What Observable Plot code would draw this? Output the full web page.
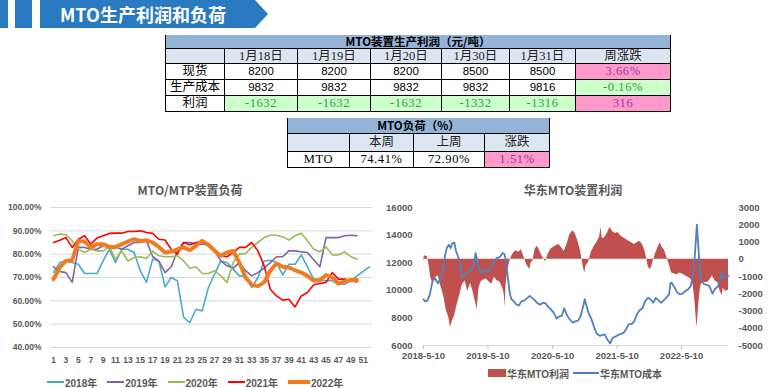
<!DOCTYPE html>
<html><head><meta charset="utf-8">
<script src="https://cdn.jsdelivr.net/npm/d3@7"></script>
<script src="https://cdn.jsdelivr.net/npm/@observablehq/plot@0.6"></script>
<style>
body{margin:0;width:776px;height:388px;background:#fff;position:relative;overflow:hidden;font-family:"Noto Sans CJK SC",sans-serif;}
.abs{position:absolute;}
#banner{left:40px;top:0;width:228px;height:28px;background:#2A7AC2;clip-path:polygon(0 0,215px 0,228px 14px,215px 28px,0 28px);color:#fff;font-weight:bold;font-size:18px;line-height:28px;}
#banner span{position:absolute;left:20px;top:0;}
.blk{top:0;height:28px;background:#2A7AC2;}
table{border-collapse:collapse;position:absolute;table-layout:fixed;}
td{border:1px solid #000;padding:0;text-align:center;overflow:hidden;white-space:nowrap;color:#000;}
td.h{background:#95B3D7;font-weight:bold;font-size:11.5px;font-family:"Noto Sans CJK SC";border-top:none;overflow:visible;}
td.s{background:#DCE6F1;font-family:"Liberation Serif","Noto Sans CJK SC";font-size:12.5px;color:#222;}
td.lab{font-family:"Liberation Serif","Noto Sans CJK SC";font-size:12.5px;}
td.num{font-family:"Liberation Sans";font-size:11.5px;}
td.ser{font-family:"Liberation Serif";font-size:12.5px;letter-spacing:0.6px;}
td.g{background:#CCFFCC;color:#2E9E3E;}
td.p{background:#FF99CC;color:#9B3A9B;}
.title{font-weight:bold;font-size:12px;color:#595959;text-align:center;line-height:16px;}
.legend{display:flex;align-items:center;font-family:"Liberation Sans","Noto Sans CJK SC";font-weight:bold;font-size:10px;color:#595959;white-space:nowrap;}
.legend .it{display:flex;align-items:center;}
.sw{display:inline-block;width:17px;margin-right:1px;}
</style></head><body>
<div class="abs blk" style="left:0;width:8px"></div>
<div class="abs blk" style="left:15px;width:17px"></div>
<div id="banner" class="abs"><span>MTO生产利润和负荷</span></div>
<div id="tables"></div>
<div class="abs title" style="left:90px;top:182px;width:200px">MTO/MTP装置负荷</div>
<div class="abs title" style="left:473px;top:182px;width:200px">华东MTO装置利润</div>
<div id="left" class="abs" style="left:0;top:195px"></div>
<div id="right" class="abs" style="left:380px;top:195px"></div>
<div id="legL" class="abs legend" style="left:47px;top:375px;height:14px"></div>
<div id="legR" class="abs legend" style="left:488px;top:366px;height:14px"></div>
<script>
// ---------- table data ----------
const profitTitle = "MTO装置生产利润（元/吨）";
const dateCols = ["1月18日","1月19日","1月20日","1月30日","1月31日"];
const changeHead = "周涨跌";
const rowNames = ["现货","生产成本","利润"];
const spotRow = [8200,8200,8200,8500,8500];
const costRow = [9832,9832,9832,9832,9816];
const profitRow = [-1632,-1632,-1632,-1332,-1316];
const weekChange = ["3.66%","-0.16%","316"];
const loadTitle = "MTO负荷（%）";
const loadCols = ["本周","上周","涨跌"];
const loadRow = ["MTO","74.41%","72.90%","1.51%"];

// ---------- load chart data (weekly, %) ----------
const years = ["2018年","2019年","2020年","2021年","2022年"];
const y2018 = [72.1,76.4,77.1,76.4,75.7,71.7,71.7,71.7,77.1,82.1,76.4,82.1,82.1,80.7,72.9,67.9,77.9,77.1,66.0,70.0,68.6,52.9,50.7,56.4,55.7,65.7,71.4,77.1,76.4,73.6,70.7,70.7,65.7,70.0,77.1,77.4,76.4,71.1,75.7,75.7,79.7,74.6,69.3,68.9,68.6,68.6,67.1,67.1,68.6,70.7,72.6,74.6];
const y2019 = [74.6,72.6,72.1,67.9,82.9,82.9,82.1,82.1,83.6,83.6,83.1,82.1,83.6,85.0,85.0,85.7,79.0,77.0,72.1,74.6,81.4,85.0,85.0,84.3,84.3,84.0,81.4,77.1,75.0,74.0,76.4,72.9,70.7,72.1,74.0,76.4,78.9,78.9,81.4,81.4,81.0,80.7,77.6,74.6,87.1,87.1,87.1,87.9,88.1,87.9];
const y2020 = [87.9,88.6,88.3,85.7,82.1,80.7,82.1,81.4,81.4,83.1,77.9,81.4,77.1,78.6,78.9,78.1,81.4,79.3,78.9,78.9,79.3,77.1,74.0,74.6,71.7,71.7,72.9,70.7,67.9,76.4,80.0,80.3,82.9,85.0,87.1,88.1,88.1,87.4,86.0,87.9,89.0,85.7,82.1,81.0,83.1,79.7,79.7,81.0,78.9,77.9];
const y2021 = [85.0,86.0,87.1,82.9,86.4,87.9,84.3,86.9,87.9,88.9,89.0,89.0,89.7,89.7,90.0,89.3,88.9,86.4,86.1,82.1,80.0,85.0,84.0,85.0,85.4,84.6,82.1,79.3,78.9,80.7,82.9,82.9,85.0,81.4,75.0,65.0,62.1,60.3,60.7,57.4,62.1,63.6,66.9,67.4,67.9,72.1,69.3,69.3,68.6,68.1];
const y2022 = [69.3,74.3,77.1,77.4,85.7,85.4,82.9,84.3,84.3,83.1,83.1,84.3,85.4,86.4,85.7,86.0,85.0,83.1,80.7,81.1,82.1,82.9,81.7,83.6,85.7,84.0,81.4,79.3,80.7,81.4,76.4,70.0,66.9,66.3,67.9,72.9,76.0,74.6,74.3,73.1,72.1,70.7,68.6,68.9,71.0,70.0,67.4,68.3,68.9,68.9];
const loadTicks = [40,50,60,70,80,90,100];
const weekLabels = [1,3,5,7,9,11,13,15,17,19,21,23,25,27,29,31,33,35,37,39,41,43,45,47,49,51];

// ---------- profit chart data ----------
const costSeries = [["2018-05-10",9350],["2018-05-20",9200],["2018-06-01",9250],["2018-06-15",9700],["2018-07-01",10700],["2018-07-15",10850],["2018-08-01",10500],["2018-08-15",10900],["2018-09-01",11700],["2018-09-10",12600],["2018-09-20",13100],["2018-10-01",13300],["2018-10-10",13050],["2018-10-20",13400],["2018-11-01",13450],["2018-11-10",12850],["2018-11-20",12500],["2018-12-01",12100],["2018-12-15",10900],["2019-01-01",11150],["2019-01-15",11300],["2019-02-01",11450],["2019-02-15",11650],["2019-03-01",12700],["2019-03-10",12200],["2019-03-20",11500],["2019-04-01",11350],["2019-04-15",11250],["2019-05-01",11500],["2019-05-15",11400],["2019-06-01",11800],["2019-06-15",12150],["2019-07-01",12350],["2019-07-15",12400],["2019-08-01",12700],["2019-08-10",12650],["2019-08-20",12200],["2019-09-01",10800],["2019-09-10",9800],["2019-09-20",9350],["2019-10-01",9250],["2019-10-15",9000],["2019-11-01",8900],["2019-11-15",9200],["2019-12-01",9250],["2019-12-15",9400],["2020-01-01",9600],["2020-01-15",9450],["2020-02-01",9250],["2020-02-15",9050],["2020-03-01",8950],["2020-03-15",9100],["2020-04-01",9050],["2020-04-15",8800],["2020-05-01",8600],["2020-05-15",8400],["2020-06-01",7950],["2020-06-15",8100],["2020-07-01",8150],["2020-07-15",8700],["2020-08-01",8150],["2020-08-15",7900],["2020-09-01",7650],["2020-09-15",7750],["2020-10-01",7800],["2020-10-15",8100],["2020-11-01",8950],["2020-11-08",9350],["2020-11-15",9000],["2020-12-01",8300],["2020-12-15",7950],["2021-01-01",7300],["2021-01-15",6850],["2021-02-01",6700],["2021-02-15",6750],["2021-03-01",6800],["2021-03-15",6450],["2021-04-01",6150],["2021-04-15",6550],["2021-05-01",6650],["2021-05-15",6750],["2021-06-01",6850],["2021-06-15",6900],["2021-07-01",7200],["2021-07-15",7550],["2021-08-01",7550],["2021-08-15",7750],["2021-09-01",8300],["2021-09-15",8550],["2021-10-01",8700],["2021-10-15",9200],["2021-11-01",9450],["2021-11-15",9350],["2021-12-01",9100],["2021-12-15",9450],["2022-01-01",9250],["2022-01-15",9100],["2022-02-01",9300],["2022-02-15",9500],["2022-03-01",9700],["2022-03-08",10500],["2022-03-15",10550],["2022-04-01",10200],["2022-04-15",9850],["2022-05-01",9700],["2022-05-15",9750],["2022-06-01",9950],["2022-06-15",10050],["2022-07-01",10300],["2022-07-15",11200],["2022-07-25",12600],["2022-08-01",14000],["2022-08-05",14750],["2022-08-10",13800],["2022-08-15",12800],["2022-08-25",11000],["2022-09-01",10600],["2022-09-15",10450],["2022-10-01",10400],["2022-10-15",10300],["2022-11-01",9750],["2022-11-15",10100],["2022-12-01",10250],["2022-12-15",10700],["2022-12-25",11350],["2023-01-01",11000],["2023-01-15",10950],["2023-01-31",11050]];
const profitSeries = [["2018-05-10",-150],["2018-05-15",200],["2018-06-01",150],["2018-06-10",-300],["2018-06-20",-1050],["2018-07-01",-1400],["2018-07-15",-1100],["2018-08-01",-950],["2018-08-15",-1500],["2018-09-01",-2100],["2018-09-15",-2900],["2018-10-01",-3400],["2018-10-10",-3950],["2018-10-20",-3600],["2018-11-01",-3300],["2018-11-15",-2700],["2018-12-01",-2100],["2018-12-15",-1500],["2019-01-01",-1250],["2019-01-15",-1850],["2019-02-01",-1400],["2019-02-15",-1900],["2019-03-01",-2500],["2019-03-10",-2900],["2019-03-20",-1700],["2019-04-01",-1300],["2019-04-15",-1200],["2019-05-01",-1150],["2019-05-15",-1300],["2019-06-01",-1450],["2019-06-15",-1050],["2019-07-01",-1250],["2019-07-15",-1300],["2019-08-01",-1650],["2019-08-10",-2000],["2019-08-15",-2800],["2019-08-20",-1500],["2019-09-01",-600],["2019-09-10",-150],["2019-09-20",150],["2019-10-01",350],["2019-10-15",500],["2019-11-01",400],["2019-11-15",550],["2019-12-01",100],["2019-12-15",-300],["2020-01-01",-600],["2020-01-10",-200],["2020-01-20",-100],["2020-02-01",600],["2020-02-15",750],["2020-03-01",400],["2020-03-15",100],["2020-04-01",-150],["2020-04-15",300],["2020-05-01",600],["2020-05-15",700],["2020-06-01",800],["2020-06-15",850],["2020-07-01",650],["2020-07-15",450],["2020-08-01",900],["2020-08-15",1400],["2020-09-01",1650],["2020-09-15",1500],["2020-10-01",1050],["2020-10-15",500],["2020-11-01",-500],["2020-11-08",-800],["2020-11-15",-400],["2020-12-01",-150],["2020-12-15",400],["2021-01-01",750],["2021-01-15",950],["2021-02-01",1300],["2021-02-08",1850],["2021-02-15",1200],["2021-03-01",1250],["2021-03-15",1500],["2021-04-01",1850],["2021-04-15",1600],["2021-05-01",1500],["2021-05-15",1550],["2021-06-01",1350],["2021-06-15",1250],["2021-07-01",1150],["2021-07-15",1050],["2021-08-01",950],["2021-08-15",850],["2021-09-01",950],["2021-09-15",1050],["2021-10-01",850],["2021-10-15",500],["2021-10-25",0],["2021-11-01",-350],["2021-11-10",-600],["2021-11-20",-500],["2021-12-01",-100],["2021-12-15",350],["2022-01-01",800],["2022-01-10",950],["2022-01-20",700],["2022-02-01",550],["2022-02-15",150],["2022-03-01",-300],["2022-03-15",-800],["2022-04-01",-850],["2022-04-15",-900],["2022-05-01",-800],["2022-05-15",-850],["2022-06-01",-950],["2022-06-15",-1050],["2022-07-01",-1150],["2022-07-15",-1500],["2022-07-25",-2400],["2022-08-05",-3950],["2022-08-10",-3400],["2022-08-15",-2700],["2022-08-25",-1650],["2022-09-01",-1400],["2022-09-15",-1350],["2022-10-01",-1350],["2022-10-15",-1250],["2022-11-01",-950],["2022-11-15",-1250],["2022-12-01",-1350],["2022-12-15",-1850],["2022-12-25",-2100],["2023-01-01",-1700],["2023-01-15",-1850],["2023-01-31",-1800]];
const costTicks = [6000,8000,10000,12000,14000,16000];
const profitTicks = [-5000,-4000,-3000,-2000,-1000,0,1000,2000,3000];
const dateTicks = ["2018-05-10","2019-05-10","2020-05-10","2021-05-10","2022-05-10"];
const legendR = ["华东MTO利润","华东MTO成本"];

// ---------- tables ----------
function makeTable(left, top, widths, heights, rows) {
  const t = document.createElement("table");
  t.style.left = left + "px"; t.style.top = top + "px";
  t.style.width = d3.sum(widths) + "px";
  const cg = document.createElement("colgroup");
  widths.forEach(w => { const c = document.createElement("col"); c.style.width = w + "px"; cg.appendChild(c); });
  t.appendChild(cg);
  rows.forEach((r, i) => {
    const tr = document.createElement("tr");
    tr.style.height = heights[i] + "px";
    r.forEach(c => {
      const td = document.createElement("td");
      td.textContent = c.t; td.className = c.c || "";
      if (c.span) td.colSpan = c.span;
      td.style.lineHeight = (heights[i] - 1) + "px";
      td.style.height = (heights[i] - 1) + "px";
      tr.appendChild(td);
    });
    t.appendChild(tr);
  });
  document.getElementById("tables").appendChild(t);
}
const fmtNum = v => String(v);
makeTable(165, 35, [59,73,73,71,68,66,95], [13,15,16,16,16], [
  [{t: profitTitle, c: "h", span: 7}],
  [{t: "", c: "s"}, ...dateCols.map(d => ({t: d, c: "s"})), {t: changeHead, c: "s"}],
  [{t: rowNames[0], c: "lab"}, ...spotRow.map(v => ({t: fmtNum(v), c: "num"})), {t: weekChange[0], c: "ser p"}],
  [{t: rowNames[1], c: "lab"}, ...costRow.map(v => ({t: fmtNum(v), c: "num"})), {t: weekChange[1], c: "ser g"}],
  [{t: rowNames[2], c: "lab"}, ...profitRow.map(v => ({t: fmtNum(v), c: "ser g"})), {t: weekChange[2], c: "ser p"}]
]);
makeTable(287, 118, [62,64,71,65], [15,18,16], [
  [{t: loadTitle, c: "h", span: 4}],
  [{t: "", c: "s"}, ...loadCols.map(d => ({t: d, c: "s"}))],
  [{t: loadRow[0], c: "ser"}, {t: loadRow[1], c: "ser"}, {t: loadRow[2], c: "ser"}, {t: loadRow[3], c: "ser p"}]
]);

// ---------- left chart ----------
const yearData = [y2018, y2019, y2020, y2021, y2022];
const yearColors = ["#4BACC6", "#8064A2", "#9BBB59", "#FF0000", "#EE7D22"];
const yearWidths = [1.6, 1.6, 1.6, 1.6, 4];
const left = Plot.plot({
  width: 380, height: 177, marginTop: 12, marginBottom: 25, marginLeft: 50, marginRight: 8,
  style: {fontFamily: "Liberation Sans", fontSize: "8.5px", fontWeight: "bold", color: "#595959", background: "transparent", overflow: "visible"},
  x: {domain: [0.5, 52.5]},
  y: {domain: [40, 100]},
  marks: [
    Plot.ruleY(loadTicks, {stroke: "#D9D9D9", strokeWidth: 1}),
    ...yearData.map((arr, k) => Plot.line(arr.map((v, i) => ({week: i + 1, v})), {x: "week", y: "v", stroke: yearColors[k], strokeWidth: yearWidths[k], strokeLinejoin: "round"})),
    Plot.axisY(loadTicks, {label: null, tickSize: 0, tickPadding: 9, tickFormat: d => d.toFixed(2) + "%"}),
    Plot.axisX(weekLabels, {label: null, tickSize: 0, tickPadding: 9, tickFormat: d => String(d)})
  ]
});
document.getElementById("left").appendChild(left);

// legend left
const legL = document.getElementById("legL");
years.forEach((y, k) => {
  const it = document.createElement("div"); it.className = "it";
  it.style.marginRight = "10px";
  const sw = document.createElement("span"); sw.className = "sw";
  sw.style.height = (k === 4 ? 4 : 2) + "px"; sw.style.background = yearColors[k];
  if (k === 4) sw.style.width = "22px";
  const tx = document.createElement("span"); tx.textContent = y;
  it.appendChild(sw); it.appendChild(tx); legL.appendChild(it);
});

// ---------- right chart ----------
const parse = s => new Date(s + "T00:00:00Z");
const conv = v => (v - 6000) * 0.8 - 5000; // cost (left axis) -> profit axis
const costData = costSeries.map(([d, v]) => ({date: parse(d), v}));
const profitData = profitSeries.map(([d, v]) => ({date: parse(d), v}));
const right = Plot.plot({
  width: 396, height: 170, marginTop: 12, marginBottom: 20, marginLeft: 43, marginRight: 48,
  style: {fontFamily: "Liberation Sans", fontSize: "9.5px", fontWeight: "bold", color: "#595959", background: "transparent", overflow: "visible"},
  x: {type: "utc", domain: [parse("2018-05-10"), parse("2023-01-31")]},
  y: {domain: [-5000, 3000]},
  marks: [
    Plot.areaY(profitData, {x: "date", y: "v", fill: "#C0504D"}),
    Plot.line(costData, {x: "date", y: d => conv(d.v), stroke: "#4F81BD", strokeWidth: 1.8, strokeLinejoin: "round"}),
    Plot.ruleY([-5000], {stroke: "#D9D9D9"}),
    Plot.axisX(dateTicks.map(parse), {label: null, tickSize: 4, tickPadding: 3, stroke: "#BFBFBF", fill: "#595959",
      tickFormat: d => `${d.getUTCFullYear()}-${d.getUTCMonth() + 1}-${d.getUTCDate()}`}),
    Plot.axisY(profitTicks, {label: null, anchor: "right", tickSize: 0, tickPadding: 10, tickFormat: d => String(d)}),
    Plot.text(costTicks, {y: d => conv(d), text: d => String(d), frameAnchor: "left", textAnchor: "end", dx: -11, fill: "#595959"})
  ]
});
document.getElementById("right").appendChild(right);

// legend right
const legR = document.getElementById("legR");
legendR.forEach((name, k) => {
  const it = document.createElement("div"); it.className = "it";
  it.style.marginRight = "4px";
  const sw = document.createElement("span"); sw.className = "sw";
  if (k === 0) { sw.style.height = "8px"; sw.style.background = "#C0504D"; sw.style.width = "18px"; }
  else { sw.style.height = "2px"; sw.style.background = "#4F81BD"; sw.style.width = "26px"; }
  const tx = document.createElement("span"); tx.textContent = name;
  it.appendChild(sw); it.appendChild(tx); legR.appendChild(it);
});
</script>
</body></html>
